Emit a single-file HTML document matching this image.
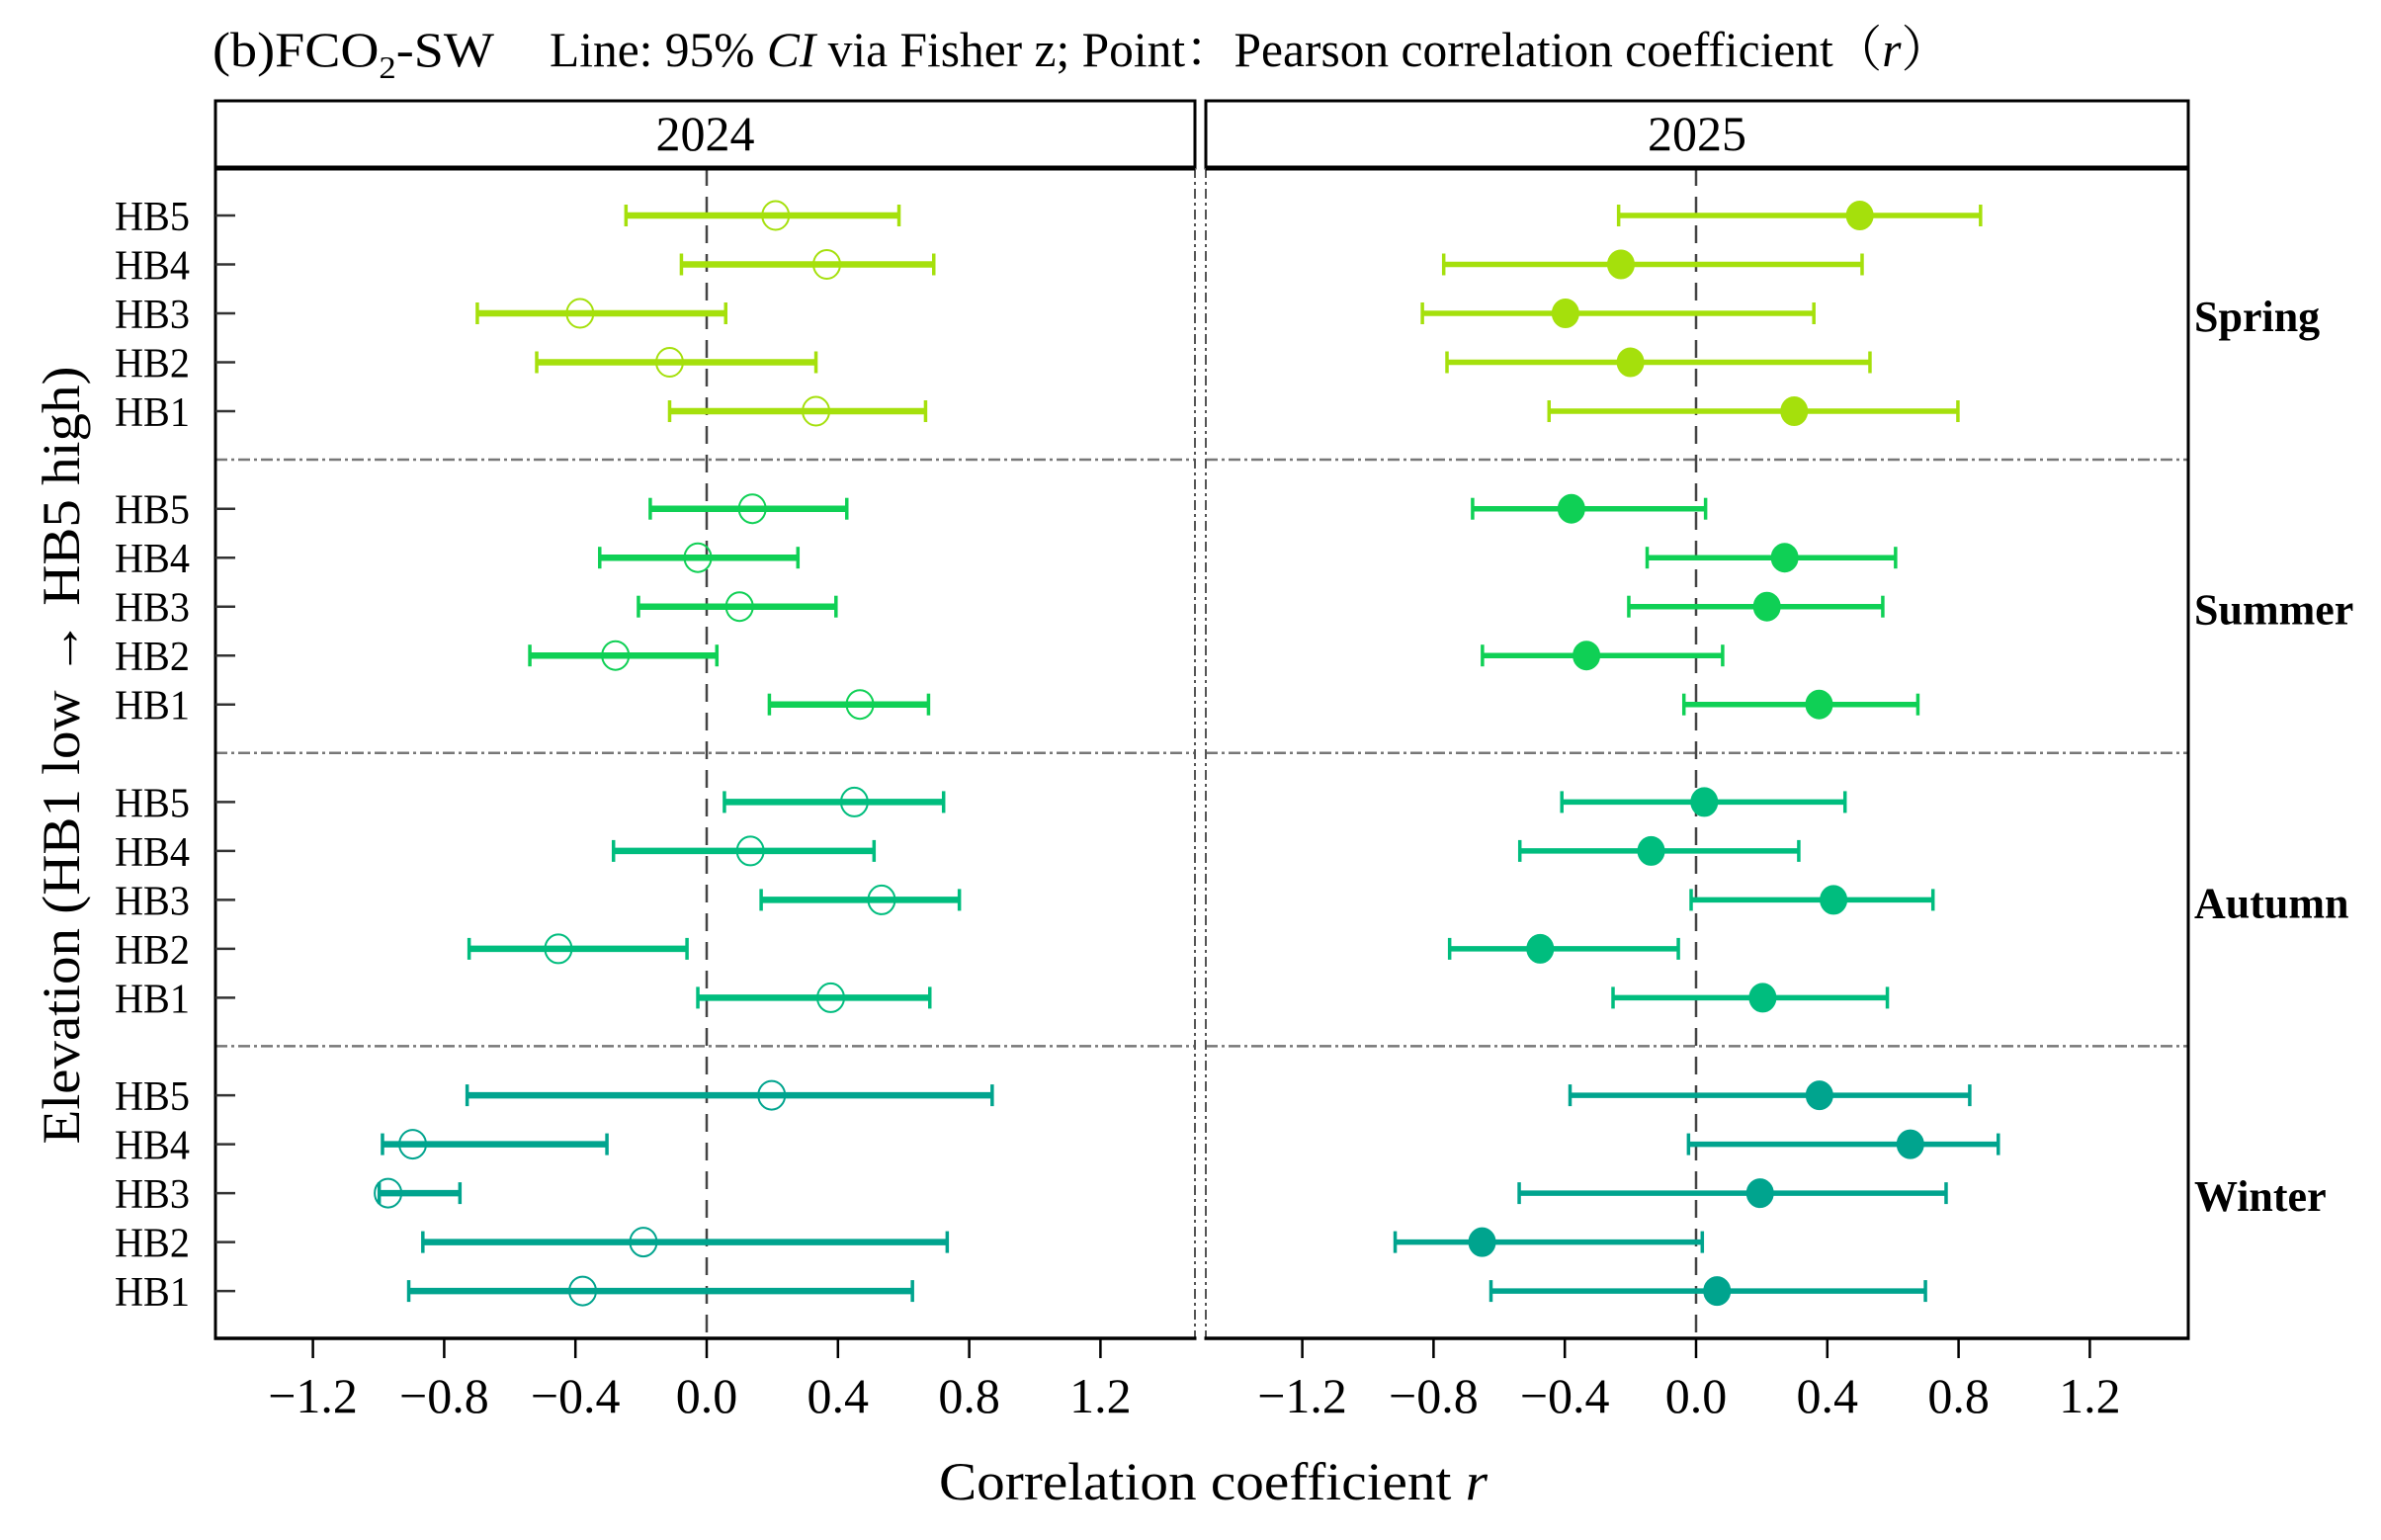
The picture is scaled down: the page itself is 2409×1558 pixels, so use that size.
<!DOCTYPE html>
<html><head><meta charset="utf-8"><style>
html,body{margin:0;padding:0;background:#fff}
svg{display:block;font-family:"Liberation Serif","Noto Serif CJK SC",serif}
</style></head><body>
<svg id="chart" width="2409" height="1558" viewBox="0 0 2409 1558" xmlns="http://www.w3.org/2000/svg">
<g>
<text x="215" y="67" font-size="50" textLength="285" lengthAdjust="spacingAndGlyphs">(b)FCO<tspan font-size="32" dy="12">2</tspan><tspan dy="-12">-SW</tspan></text>
<text x="556" y="67" font-size="50" textLength="1417" lengthAdjust="spacingAndGlyphs">Line: 95% <tspan font-style="italic">CI</tspan> via Fisher z; Point：Pearson correlation coefficient（<tspan font-style="italic">r</tspan>）</text>
</g>
<g id="plot"></g>
</svg>
<script>
const seasons = ["Spring","Summer","Autumn","Winter"];
const sites = ["HB5","HB4","HB3","HB2","HB1"];
const years = ["2024","2025"];
const xTicks = [-1.2,-0.8,-0.4,0.0,0.4,0.8,1.2];
const xTickLabels = ["−1.2","−0.8","−0.4","0.0","0.4","0.8","1.2"];
// 2024 values by season, rows HB5..HB1
const r2024 = [[0.21,0.366,-0.386,-0.113,0.333],[0.139,-0.027,0.100,-0.278,0.467],[0.450,0.133,0.533,-0.452,0.378],[0.198,-0.896,-0.971,-0.193,-0.378]];
const lo2024 = [[-0.246,-0.077,-0.699,-0.518,-0.113],[-0.172,-0.326,-0.208,-0.539,0.191],[0.054,-0.284,0.166,-0.724,-0.027],[-0.730,-0.988,-0.998,-0.865,-0.908]];
const hi2024 = [[0.586,0.692,0.058,0.333,0.667],[0.427,0.278,0.394,0.031,0.676],[0.722,0.510,0.770,-0.060,0.680],[0.870,-0.304,-0.752,0.733,0.627]];
const r2025 = [[0.499,-0.229,-0.398,-0.200,0.299],[-0.380,0.270,0.216,-0.334,0.375],[0.025,-0.137,0.419,-0.475,0.203],[0.376,0.653,0.195,-0.652,0.064]];
const lo2025 = [[-0.236,-0.769,-0.834,-0.759,-0.448],[-0.681,-0.149,-0.205,-0.651,-0.037],[-0.409,-0.537,-0.015,-0.751,-0.253],[-0.384,-0.023,-0.539,-0.917,-0.625]];
const hi2025 = [[0.867,0.506,0.359,0.530,0.798],[0.029,0.608,0.569,0.081,0.676],[0.454,0.313,0.722,-0.054,0.583],[0.834,0.921,0.762,0.019,0.699]];

const colors = ["#a5e00c","#0fd055","#00bd7e","#00a48e"];
const NS = "http://www.w3.org/2000/svg";
const g = document.getElementById('plot');
function mk(tag, attrs, parent){ const e=document.createElementNS(NS,tag); for(const k in attrs) e.setAttribute(k,attrs[k]); (parent||g).appendChild(e); return e; }

const UNIT = 332;
const panels = [{left:218,right:1209,zero:715},{left:1220,right:2214,zero:1716}];
const TOP=102, STRIPB=170, BOT=1354;
function xs(p,v){ return panels[p].zero + v*UNIT; }
function ys(s,i){ return 218 + s*296.7 + i*49.5; }

const yearData = [[r2024,lo2024,hi2024],[r2025,lo2025,hi2025]];

panels.forEach((P,p)=>{
  const strip = mk('rect',{x:P.left,y:TOP,width:P.right-P.left,height:STRIPB-TOP,fill:'#fff',stroke:'#000','stroke-width':3});
  
  
  const st = mk('text',{x:(P.left+P.right)/2,y:152,'font-size':50,'text-anchor':'middle'});
  st.textContent = years[p];
  
  
  for(let s=0;s<3;s++){
    const y = ys(s,4)+49;
    const l = mk('line',{x1:P.left,x2:P.right,y1:y,y2:y,stroke:'#777','stroke-width':2.5,'stroke-dasharray':'12 4 3 4'});
    
    
  }
  const z = mk('line',{x1:xs(p,0),x2:xs(p,0),y1:STRIPB,y2:BOT,stroke:'#444','stroke-width':2.5,'stroke-dasharray':'18 11'});
  
  
  const inner = p===0 ? P.right : P.left;
  const outer = p===0 ? P.left : P.right;
  const ob = mk('line',{x1:outer,x2:outer,y1:STRIPB,y2:BOT,stroke:'#000','stroke-width':3});
  
  
  const ib = mk('line',{x1:inner,x2:inner,y1:STRIPB,y2:BOT,stroke:'#555','stroke-width':2,'stroke-dasharray':'10 4 3 4'});
  
  
  const tb = mk('line',{x1:P.left,x2:P.right,y1:STRIPB,y2:STRIPB,stroke:'#000','stroke-width':5});
  
  
  const bb = mk('line',{x1:P.left-1.5,x2:P.right+1.5,y1:BOT,y2:BOT,stroke:'#000','stroke-width':3.5});
  
  
  xTicks.forEach((v,k)=>{
    const x = xs(p,v);
    const t = mk('line',{x1:x,x2:x,y1:BOT,y2:BOT+20,stroke:'#000','stroke-width':2.5});
    
    
    const tl = mk('text',{x:x,y:1429,'font-size':50,'text-anchor':'middle'});
    tl.textContent = xTickLabels[k];
    
    
  });
  const [R,L,H] = yearData[p];
  const sw = p===0 ? 6.5 : 5.5;
  seasons.forEach((sn,s)=>{
    sites.forEach((site,i)=>{
      const y = ys(s,i), c = colors[s];
      const grp = mk('g',{});
      
      
      mk('line',{x1:xs(p,L[s][i]),x2:xs(p,H[s][i]),y1:y,y2:y,stroke:c,'stroke-width':sw},grp);
      mk('line',{x1:xs(p,L[s][i]),x2:xs(p,L[s][i]),y1:y-11,y2:y+11,stroke:c,'stroke-width':3.5},grp);
      mk('line',{x1:xs(p,H[s][i]),x2:xs(p,H[s][i]),y1:y-11,y2:y+11,stroke:c,'stroke-width':3.5},grp);
      const pt = mk('ellipse',{cx:xs(p,R[s][i]),cy:y,rx:13.5,ry:14.5,
        fill: p===0 ? 'none' : c, stroke:c,'stroke-width': p===0 ? 2 : 1});
      
      
    });
  });
});

seasons.forEach((sn,s)=>{
  sites.forEach((site,i)=>{
    const y = ys(s,i);
    const t = mk('text',{x:192,y:y+15,'font-size':42,'text-anchor':'end',textLength:76,lengthAdjust:'spacingAndGlyphs'});
    t.textContent = site;
    
    
    const tk = mk('line',{x1:218,x2:238,y1:y,y2:y,stroke:'#333','stroke-width':2.5});
    
    
  });
  const sl = mk('text',{x:2220,y:ys(s,2)+18,'font-size':44,'font-weight':'bold'});
  sl.textContent = sn;
  
  
});

const yt = mk('text',{x:0,y:0,'font-size':54,'text-anchor':'middle',transform:'translate(80,764) rotate(-90)',textLength:787,lengthAdjust:'spacingAndGlyphs'});
yt.textContent = 'Elevation (HB1 low → HB5 high)';



const xt = mk('text',{x:950,y:1517,'font-size':54,textLength:555,lengthAdjust:'spacingAndGlyphs'});
xt.innerHTML = 'Correlation coefficient <tspan font-style="italic">r</tspan>';


</script>
</body></html>
